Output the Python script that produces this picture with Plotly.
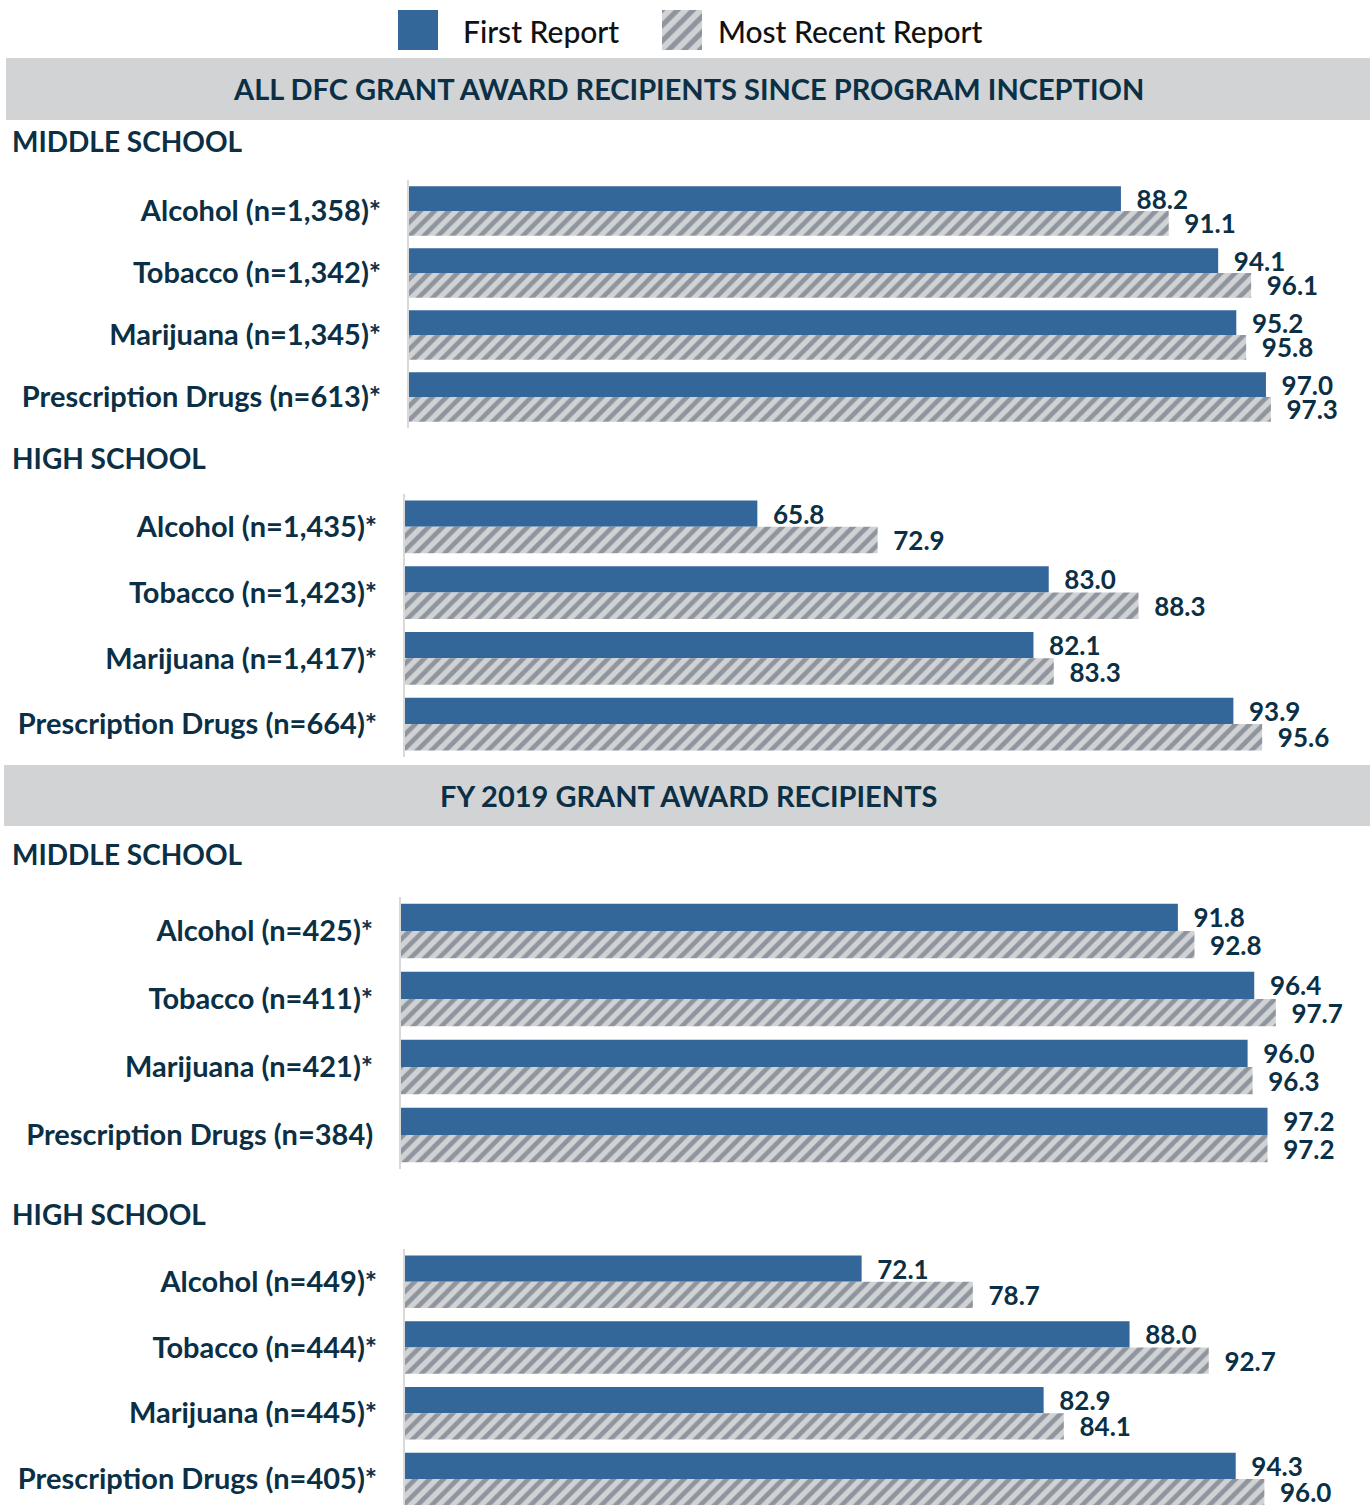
import plotly.graph_objects as go

W, H = 1370, 1505
NAVY = "#0b2f45"
BLUE = "#336699"
HATCH_BG = "#d1d2d4"
HATCH_FG = "#4d5868"
BAND = "#d1d3d4"
FONT = "Lato"

# ---- data -------------------------------------------------------------
series_names = ["First Report", "Most Recent Report"]

ms_all_labels = ["Alcohol (n=1,358)*", "Tobacco (n=1,342)*", "Marijuana (n=1,345)*",
                 "Prescription Drugs (n=613)*"]
ms_all_first = [88.2, 94.1, 95.2, 97.0]
ms_all_recent = [91.1, 96.1, 95.8, 97.3]

hs_all_labels = ["Alcohol (n=1,435)*", "Tobacco (n=1,423)*", "Marijuana (n=1,417)*",
                 "Prescription Drugs (n=664)*"]
hs_all_first = [65.8, 83.0, 82.1, 93.9]
hs_all_recent = [72.9, 88.3, 83.3, 95.6]

ms_fy19_labels = ["Alcohol (n=425)*", "Tobacco (n=411)*", "Marijuana (n=421)*",
                  "Prescription Drugs (n=384)"]
ms_fy19_first = [91.8, 96.4, 96.0, 97.2]
ms_fy19_recent = [92.8, 97.7, 96.3, 97.2]

hs_fy19_labels = ["Alcohol (n=449)*", "Tobacco (n=444)*", "Marijuana (n=445)*",
                  "Prescription Drugs (n=405)*"]
hs_fy19_first = [72.1, 88.0, 82.9, 94.3]
hs_fy19_recent = [78.7, 92.7, 84.1, 96.0]

section_titles = ["ALL DFC GRANT AWARD RECIPIENTS SINCE PROGRAM INCEPTION",
                  "FY 2019 GRANT AWARD RECIPIENTS"]
group_titles = ["MIDDLE SCHOOL", "HIGH SCHOOL", "MIDDLE SCHOOL", "HIGH SCHOOL"]

X_MIN, X_MAX = 45, 100

# ---- layout geometry (pixels) ----------------------------------------
# per panel: axis left x, px per unit, top y, bottom y, category range bottom
panels = [
    dict(labels=ms_all_labels, first=ms_all_first, recent=ms_all_recent,
         x0=409, scale=16.48, top=180, bottom=428, rbot=3.5),
    dict(labels=hs_all_labels, first=hs_all_first, recent=hs_all_recent,
         x0=405, scale=16.94, top=494, bottom=757, rbot=3.5),
    dict(labels=ms_fy19_labels, first=ms_fy19_first, recent=ms_fy19_recent,
         x0=401, scale=16.6, top=897, bottom=1169, rbot=3.5),
    dict(labels=hs_fy19_labels, first=hs_fy19_first, recent=hs_fy19_recent,
         x0=405, scale=16.85, top=1249, bottom=1505, rbot=3.397),
]


def px_x(x):
    return x / W


def px_y(y):
    return 1 - y / H


fig = go.Figure()
hatch = dict(shape="/", bgcolor=HATCH_BG, fgcolor=HATCH_FG, size=10, solidity=0.47)
value_font = dict(family=FONT, size=26, color=NAVY, weight=700)
GAP = "\u00a0\u00a0"

layout_axes = {}
for i, p in enumerate(panels, start=1):
    xa = "x" if i == 1 else f"x{i}"
    ya = "y" if i == 1 else f"y{i}"
    fig.add_trace(go.Bar(
        name=series_names[0], y=p["labels"], x=p["first"], orientation="h",
        xaxis=xa, yaxis=ya, marker=dict(color=BLUE, line=dict(width=0)),
        text=[f"{GAP}{v:.1f}" for v in p["first"]],
        textposition="outside", textfont=value_font, cliponaxis=False,
        constraintext="none", showlegend=False, offsetgroup="a"))
    fig.add_trace(go.Bar(
        name=series_names[1], y=p["labels"], x=p["recent"], orientation="h",
        xaxis=xa, yaxis=ya,
        marker=dict(color=HATCH_BG, pattern=hatch, line=dict(width=0)),
        text=[f"{GAP}{v:.1f}" for v in p["recent"]],
        textposition="outside", textfont=value_font, cliponaxis=False,
        constraintext="none", showlegend=False, offsetgroup="b"))
    x_end = p["x0"] + (X_MAX - X_MIN) * p["scale"]
    key = "" if i == 1 else str(i)
    layout_axes[f"xaxis{key}"] = dict(
        domain=[px_x(p["x0"]), px_x(x_end)], range=[X_MIN, X_MAX],
        visible=False, anchor=ya)
    layout_axes[f"yaxis{key}"] = dict(
        domain=[px_y(p["bottom"]), px_y(p["top"])], type="category",
        categoryorder="array", categoryarray=p["labels"],
        range=[p["rbot"], -0.5], anchor=xa,
        showline=True, linecolor="#d9d9d9", linewidth=2, showgrid=False,
        zeroline=False, ticks="", ticklabelstandoff=20,
        tickfont=dict(family=FONT, size=29, color=NAVY, weight=700))

# legend swatches drawn as bars on their own tiny axes
swatches = [(398, 438, dict(color=BLUE, line=dict(width=0))),
            (662, 702, dict(color=HATCH_BG, pattern=dict(hatch, size=11), line=dict(width=0)))]
for j, (sx0, sx1, mk) in enumerate(swatches):
    n = 5 + j
    fig.add_trace(go.Bar(x=[1], y=[0], width=[1], orientation="h", marker=mk,
                         xaxis=f"x{n}", yaxis=f"y{n}", showlegend=False,
                         hoverinfo="skip"))
    layout_axes[f"xaxis{n}"] = dict(domain=[px_x(sx0), px_x(sx1)], range=[0, 1],
                                    visible=False, anchor=f"y{n}")
    layout_axes[f"yaxis{n}"] = dict(domain=[px_y(50), px_y(10)], range=[-0.5, 0.5],
                                    visible=False, anchor=f"x{n}")

annotations = []
# legend texts
for txt, lx in [(series_names[0], 461), (series_names[1], 716)]:
    annotations.append(dict(text=txt, x=px_x(lx), y=px_y(31), xref="paper", yref="paper",
                            xanchor="left", yanchor="middle", showarrow=False,
                            font=dict(family=FONT, size=30, color="#111111", weight=500)))

shapes = []
for title, (y0, y1, bx0) in zip(section_titles, [(58, 120, 6), (765, 826, 4)]):
    shapes.append(dict(type="rect", xref="paper", yref="paper", layer="below",
                       x0=px_x(bx0), x1=1, y0=px_y(y1), y1=px_y(y0),
                       fillcolor=BAND, line=dict(width=0)))
    annotations.append(dict(text=title, x=px_x(688), y=px_y((y0 + y1) / 2),
                            xref="paper", yref="paper", xanchor="center",
                            yanchor="middle", showarrow=False,
                            font=dict(family=FONT, size=29, color=NAVY, weight=700)))

for title, gy in zip(group_titles, [141, 458, 854, 1214]):
    annotations.append(dict(text=title, x=px_x(10), y=px_y(gy), xref="paper",
                            yref="paper", xanchor="left", yanchor="middle",
                            showarrow=False,
                            font=dict(family=FONT, size=28, color=NAVY, weight=700)))

fig.update_layout(
    width=W, height=H, margin=dict(l=0, r=0, t=0, b=0),
    paper_bgcolor="white", plot_bgcolor="white",
    barmode="group", bargap=0.2, bargroupgap=0,
    annotations=annotations, shapes=shapes, showlegend=False,
    **layout_axes)

fig.write_html("out.html", config={"displayModeBar": False})
